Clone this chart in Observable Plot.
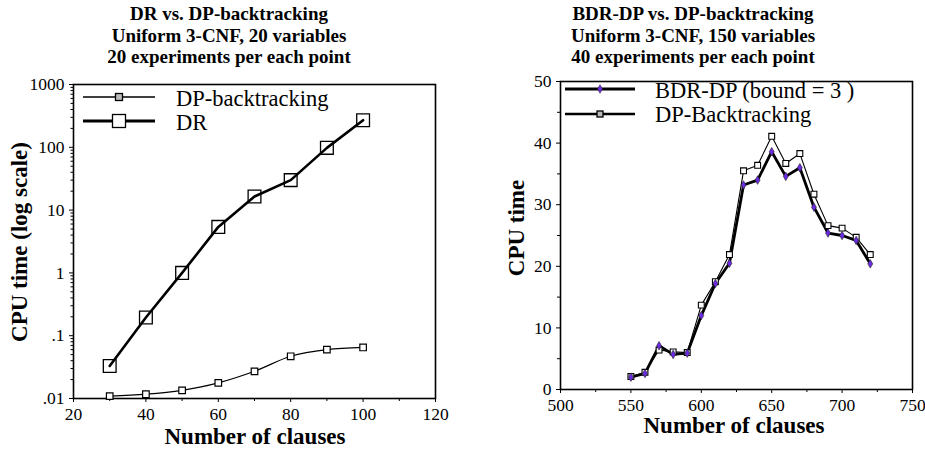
<!DOCTYPE html>
<html>
<head>
<meta charset="utf-8">
<script src="https://cdn.jsdelivr.net/npm/d3@7"></script>
<script src="https://cdn.jsdelivr.net/npm/@observablehq/plot@0.6"></script>
<style>
  body { margin: 0; background: white; }
  #wrap { position: relative; width: 925px; height: 458px; overflow: hidden; background: white; font-family: "Liberation Serif", "Times New Roman", serif; }
  .title { position: absolute; width: 440px; text-align: center; font-weight: bold; font-size: 19px; line-height: 21.5px; color: black; }
  .axlab { position: absolute; font-weight: bold; font-size: 23px; color: black; white-space: nowrap; transform: translate(-50%, -50%); }
  .rot { transform: translate(-50%, -50%) rotate(-90deg); }
</style>
</head>
<body>
<div id="wrap"></div>
<script>
// ---- Left chart data: DR vs. DP-backtracking (20 variables) ----
const leftClauses = [30, 40, 50, 60, 70, 80, 90, 100];
const drTime = [0.033, 0.195, 1.0, 5.4, 16.5, 30, 98, 270];
const dpTime = [0.0109, 0.0117, 0.0135, 0.0177, 0.0271, 0.047, 0.060, 0.065];
const leftYTicks = [0.01, 0.1, 1, 10, 100, 1000];
const leftYTickLabels = [".01", ".1", "1", "10", "100", "1000"];
const leftXTicks = [20, 40, 60, 80, 100, 120];

// ---- Right chart data: BDR-DP vs. DP-backtracking (150 variables) ----
const rightClauses = [550, 560, 570, 580, 590, 600, 610, 620, 630, 640, 650, 660, 670, 680, 690, 700, 710, 720];
const bdrTime = [2.0, 2.6, 7.1, 5.7, 5.9, 12.0, 17.2, 20.5, 33.2, 34.0, 38.6, 34.6, 36.0, 29.6, 25.4, 25.0, 24.2, 20.4];
const dpbTime = [2.1, 2.8, 6.4, 6.1, 6.0, 13.7, 17.5, 21.9, 35.5, 36.4, 41.1, 36.7, 38.3, 31.7, 26.6, 26.2, 24.7, 21.9];
const rightYTicks = [0, 10, 20, 30, 40, 50];
const rightXTicks = [500, 550, 600, 650, 700, 750];

const leftTitle = ["DR vs. DP-backtracking", "Uniform 3-CNF, 20 variables", "20 experiments per each point"];
const rightTitle = ["BDR-DP vs. DP-backtracking", "Uniform 3-CNF, 150 variables", "40 experiments per each point"];

const wrap = document.getElementById("wrap");
const FONT = "'Liberation Serif', 'Times New Roman', serif";

const drData = leftClauses.map((x, i) => ({x, y: drTime[i]}));
const dpData = leftClauses.map((x, i) => ({x, y: dpTime[i]}));
const bdrData = rightClauses.map((x, i) => ({x, y: bdrTime[i]}));
const dpbData = rightClauses.map((x, i) => ({x, y: dpbTime[i]}));

// log minor ticks
const logMinor = [];
for (let d = 0.01; d < 1000; d *= 10) for (let k = 2; k <= 9; k++) logMinor.push(+(d * k).toPrecision(3));
const leftXMinor = [30, 50, 70, 90, 110];
const rightYMinor = [5, 15, 25, 35, 45];
const rightXMinor = [525, 575, 625, 675, 725];

const blank = () => "";

const left = Plot.plot({
  width: 460, height: 458,
  marginLeft: 73, marginRight: 25, marginTop: 84, marginBottom: 60,
  style: {fontFamily: FONT, fontSize: "17px", background: "transparent", color: "black", overflow: "visible"},
  x: {domain: [20, 120]},
  y: {type: "log", domain: [0.01, 1000]},
  marks: [
    Plot.axisY(logMinor, {tickSize: 2.5, tickFormat: blank, label: null, strokeWidth: 1}),
    Plot.axisY(leftYTicks, {tickSize: 4, tickPadding: 5, tickFormat: (d) => leftYTickLabels[leftYTicks.indexOf(d)], label: null, fontSize: 17.5, strokeWidth: 1}),
    Plot.axisX(leftXMinor, {tickSize: 3, tickFormat: blank, label: null}),
    Plot.axisX(leftXTicks, {tickSize: 4, tickPadding: 5, label: null, fontSize: 17.5}),
    Plot.frame({stroke: "black", strokeWidth: 1.6}),
    Plot.line(dpData, {x: "x", y: "y", stroke: "black", strokeWidth: 1.2, curve: "monotone-x"}),
    Plot.dot(dpData, {x: "x", y: "y", symbol: "square", r: 3.7, stroke: "black", strokeWidth: 1.2, fill: "white"}),
    Plot.line(drData, {x: "x", y: "y", stroke: "black", strokeWidth: 2.6}),
    Plot.dot(drData, {x: "x", y: "y", symbol: "square", r: 7.2, stroke: "black", strokeWidth: 1.3, fill: "none"})
  ]
});
left.style.position = "absolute"; left.style.left = "0px"; left.style.top = "0px";
wrap.appendChild(left);

const right = Plot.plot({
  width: 465, height: 458,
  marginLeft: 100, marginRight: 13, marginTop: 81, marginBottom: 69,
  style: {fontFamily: FONT, fontSize: "17px", background: "transparent", color: "black", overflow: "visible"},
  x: {domain: [500, 750]},
  y: {domain: [0, 50]},
  marks: [
    Plot.axisY(rightYMinor, {tickSize: 3, tickFormat: blank, label: null}),
    Plot.axisY(rightYTicks, {tickSize: 4, tickPadding: 5, label: null, fontSize: 17.5}),
    Plot.axisX(rightXMinor, {tickSize: 3, tickFormat: blank, label: null}),
    Plot.axisX(rightXTicks, {tickSize: 4, tickPadding: 5, label: null, fontSize: 17.5}),
    Plot.frame({stroke: "black", strokeWidth: 1.6}),
    Plot.line(dpbData, {x: "x", y: "y", stroke: "black", strokeWidth: 1.1}),
    Plot.line(bdrData, {x: "x", y: "y", stroke: "black", strokeWidth: 2.8}),
    Plot.dot(dpbData, {x: "x", y: "y", symbol: "square", r: 3.3, stroke: "black", strokeWidth: 1.1, fill: "white"}),
    Plot.dot(bdrData, {x: "x", y: "y", symbol: "diamond", r: 2.6, stroke: "#222", strokeWidth: 0.6, fill: "#6a2be0"})
  ]
});
right.style.position = "absolute"; right.style.left = "460px"; right.style.top = "0px";
wrap.appendChild(right);

// Titles
function addTitle(lines, cx) {
  const d = document.createElement("div");
  d.className = "title";
  d.style.left = (cx - 220) + "px";
  d.style.top = "3px";
  d.innerHTML = lines.join("<br>");
  wrap.appendChild(d);
}
addTitle(leftTitle, 229);
addTitle(rightTitle, 693);

// Axis labels
function addLabel(text, x, y, rot) {
  const d = document.createElement("div");
  d.className = "axlab" + (rot ? " rot" : "");
  d.style.left = x + "px"; d.style.top = y + "px";
  d.textContent = text;
  wrap.appendChild(d);
}
addLabel("Number of clauses", 255, 437, false);
addLabel("CPU time (log scale)", 20, 242, true);
addLabel("Number of clauses", 734, 426, false);
addLabel("CPU time", 517, 228, true);

// Legends (overlay)
const leg = d3.select(wrap).append("svg")
  .attr("width", 925).attr("height", 458)
  .style("position", "absolute").style("left", "0px").style("top", "0px")
  .style("font-family", FONT);
const legendItems = [
  {x0: 83, x1: 155, y: 97, ty: 106, tx: 176, label: "DP-backtracking", w: 1.6, mark: "sq", size: 7},
  {x0: 83, x1: 155, y: 121, ty: 130, tx: 176, label: "DR", w: 2.8, mark: "sq", size: 13},
  {x0: 565, x1: 635, y: 89, ty: 98, tx: 655, label: "BDR-DP (bound = 3 )", w: 3.2, mark: "dia", size: 5},
  {x0: 565, x1: 635, y: 114, ty: 122, tx: 655, label: "DP-Backtracking", w: 2.4, mark: "sq", size: 6}
];
legendItems.forEach(it => {
  leg.append("line").attr("x1", it.x0).attr("x2", it.x1).attr("y1", it.y).attr("y2", it.y)
    .attr("stroke", "black").attr("stroke-width", it.w);
  const mx = (it.x0 + it.x1) / 2;
  if (it.mark === "sq") {
    leg.append("rect").attr("x", mx - it.size / 2).attr("y", it.y - it.size / 2)
      .attr("width", it.size).attr("height", it.size)
      .attr("fill", it.size > 10 ? "white" : "#bbb").attr("stroke", "black").attr("stroke-width", 1.3);
  } else {
    leg.append("path").attr("d", d3.symbol(d3.symbolDiamond, 22)())
      .attr("transform", `translate(${mx},${it.y})`).attr("fill", "#6a2be0").attr("stroke", "#222").attr("stroke-width", 0.5);
  }
  leg.append("text").attr("x", it.tx).attr("y", it.ty).attr("font-size", 22.5).attr("fill", "black").text(it.label);
});
</script>
</body>
</html>
